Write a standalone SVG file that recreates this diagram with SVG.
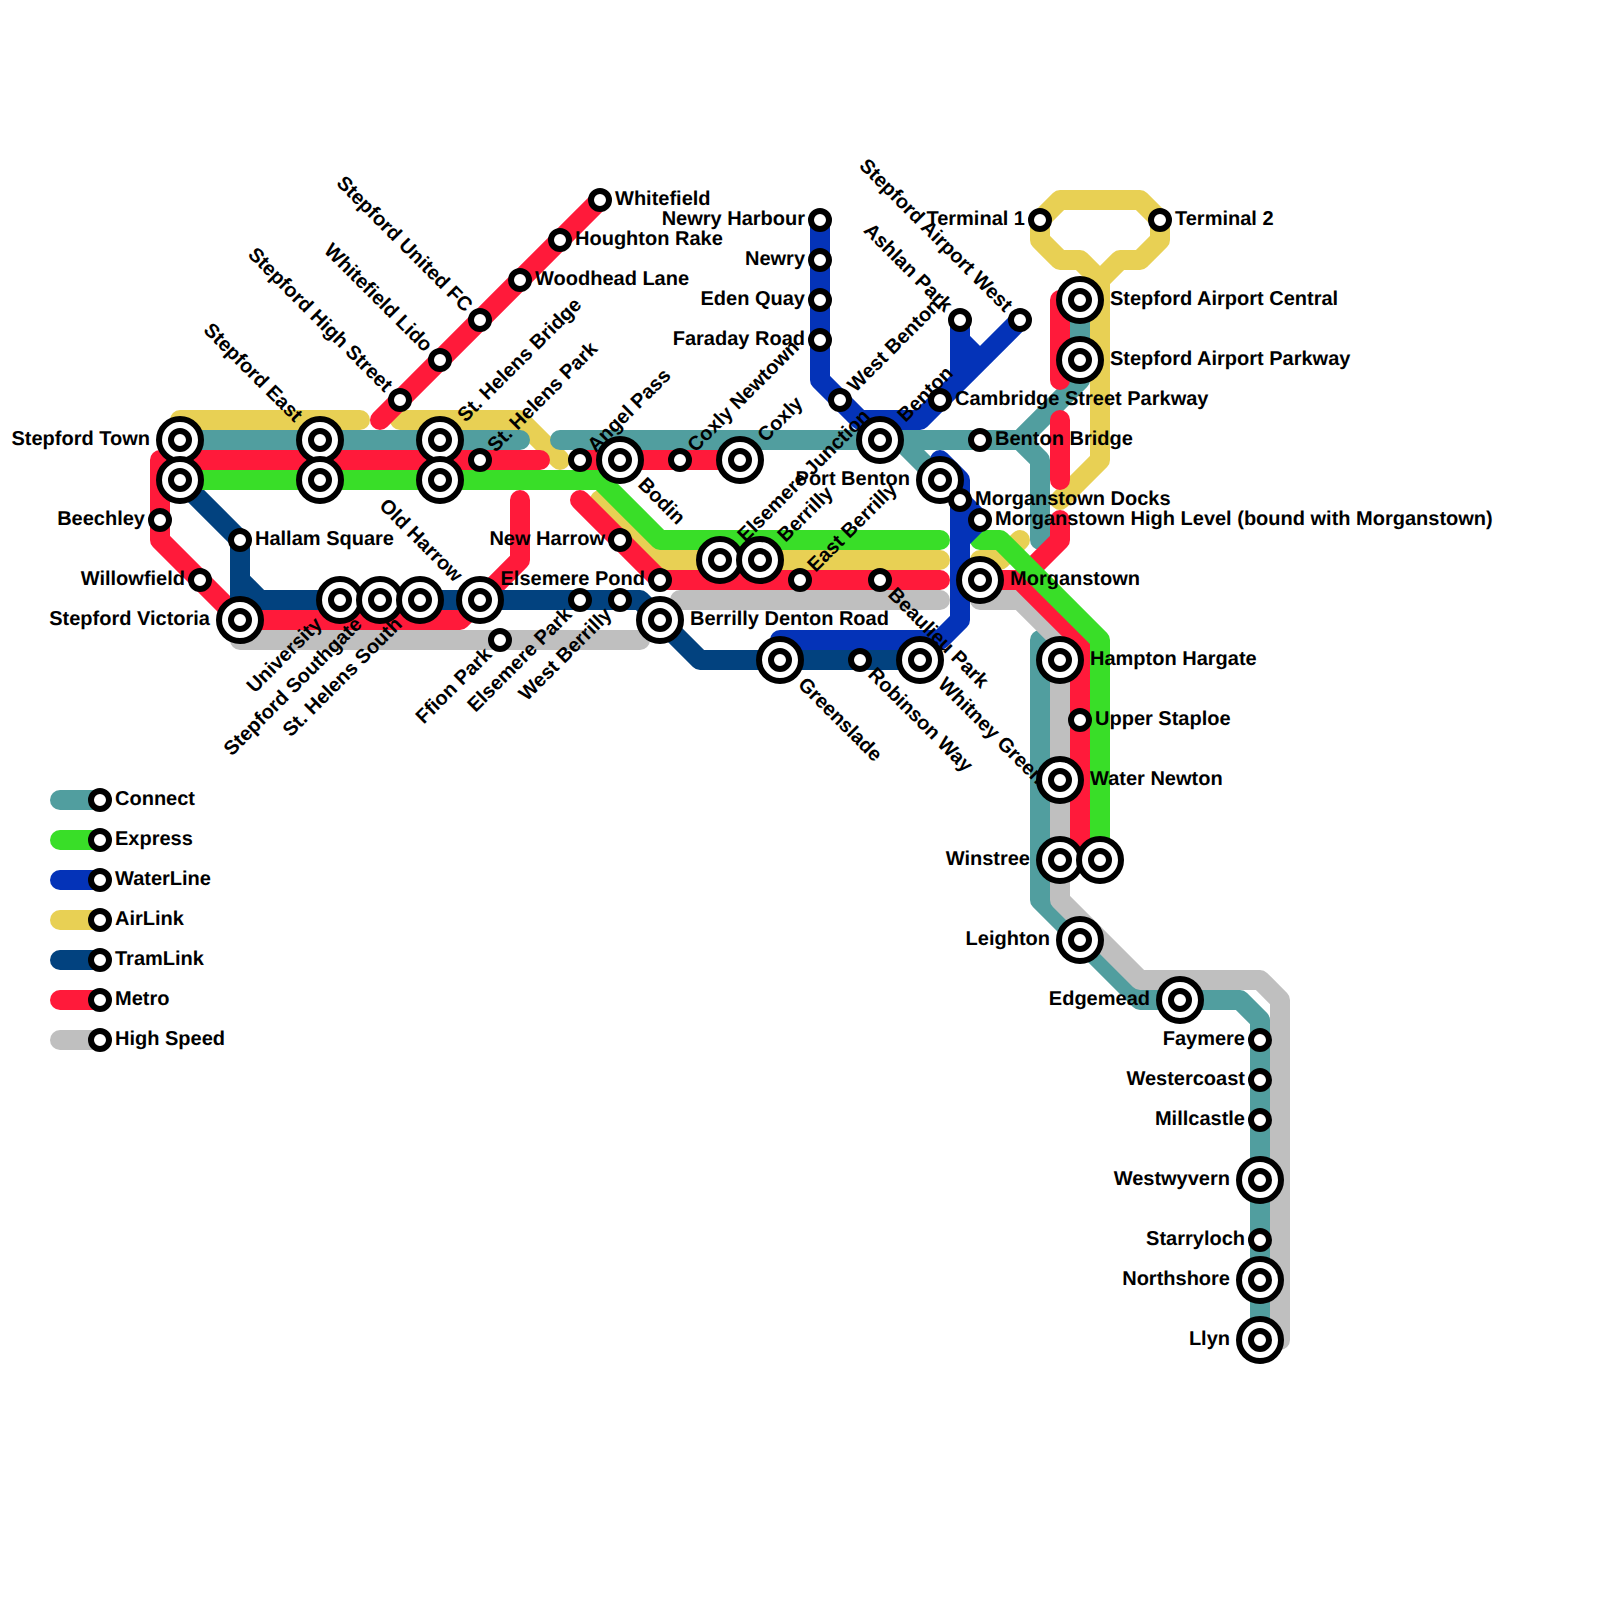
<svg xmlns="http://www.w3.org/2000/svg" width="1600" height="1600" viewBox="0 0 1600 1600">
<style>
.l{fill:none;stroke-width:20;stroke-linecap:round;stroke-linejoin:round}
.connect{stroke:#519e9f}.express{stroke:#39de28}.water{stroke:#0433b8}.air{stroke:#e8d054}.tram{stroke:#02427f}.metro{stroke:#ff1a3a}.high{stroke:#bfbfbf}
.o{fill:#fff;stroke:#000;stroke-width:6}
text{font-family:"Liberation Sans",Arial,sans-serif;font-weight:700;font-size:20px;fill:#000;text-rendering:geometricPrecision}
.e{text-anchor:end}
</style>
<defs>
<g id="s"><circle class="o" r="9"/></g>
<g id="b"><circle class="o" r="21"/><circle class="o" r="9"/></g>
</defs>
<rect width="1600" height="1600" fill="#fff"/>
<g id="connectors">
<path class="l air" d="M180 420H360M400 420H520L560 460M600 500L660 560H940M980 560H1000L1020 540M1060 500L1100 460V280L1080 260H1060L1040 240V220L1060 200H1140L1160 220V240L1140 260H1120L1100 280"/>
<path class="l connect" d="M180 440H520M560 440H1020L1040 460V540M900 440L940 480M1020 440L1080 380V300M1040 640V900L1140 1000H1240L1260 1020V1340"/>
<path class="l high" d="M240 640H640M680 600H940M980 600H1020L1060 640V900L1140 980H1260L1280 1000V1340"/>
<path class="l metro" d="M180 460H160V540L240 620H460L520 560V500M180 460H540M580 460H740M580 500L660 580H940M380 420L600 200M980 580H1020L1080 640V860M1060 520V540L1020 580M1060 420V480M1080 300H1060V380"/>
<path class="l tram" d="M180 480L240 540V620M240 580L260 600H640L700 660H920"/>
<path class="l express" d="M180 480H600L660 540H940M980 540H1000L1100 640V860"/>
<path class="l water" d="M820 220V380L860 420H920L1020 320M960 320V380M960 340L980 360M780 640H940L960 620V480L940 460M960 500L980 520L960 540"/>
<path class="l connect" d="M60 800H100"/><path class="l express" d="M60 840H100"/><path class="l water" d="M60 880H100"/><path class="l air" d="M60 920H100"/><path class="l tram" d="M60 960H100"/><path class="l metro" d="M60 1000H100"/><path class="l high" d="M60 1040H100"/>
</g>
<g id="legend">
<g id="leg1"><use href="#s" x="100" y="800"/><text x="115" y="805">Connect</text></g>
<g id="leg2"><use href="#s" x="100" y="840"/><text x="115" y="845">Express</text></g>
<g id="leg3"><use href="#s" x="100" y="880"/><text x="115" y="885">WaterLine</text></g>
<g id="leg4"><use href="#s" x="100" y="920"/><text x="115" y="925">AirLink</text></g>
<g id="leg5"><use href="#s" x="100" y="960"/><text x="115" y="965">TramLink</text></g>
<g id="leg6"><use href="#s" x="100" y="1000"/><text x="115" y="1005">Metro</text></g>
<g id="leg7"><use href="#s" x="100" y="1040"/><text x="115" y="1045">High Speed</text></g>
</g>
<g id="nodes">
<g id="n-stepford-town"><use href="#b" x="180" y="440"/><text class="e" x="150" y="445">Stepford Town</text></g>
<g id="n-st2"><use href="#b" x="180" y="480"/></g>
<g id="n-beechley"><use href="#s" x="160" y="520"/><text class="e" x="145" y="525">Beechley</text></g>
<g id="n-willowfield"><use href="#s" x="200" y="580"/><text class="e" x="185" y="585">Willowfield</text></g>
<g id="n-stepford-victoria"><use href="#b" x="240" y="620"/><text class="e" x="210" y="625">Stepford Victoria</text></g>
<g id="n-hallam"><use href="#s" x="240" y="540"/><text x="255" y="545">Hallam Square</text></g>
<g id="n-stepford-east"><use href="#b" x="320" y="440"/><text class="e" transform="translate(320 440) rotate(45)" x="-30" y="6">Stepford East</text></g>
<g id="n-se2"><use href="#b" x="320" y="480"/></g>
<g id="n-university"><use href="#b" x="340" y="600"/><text class="e" transform="translate(340 600) rotate(-45)" x="-30" y="6">University</text></g>
<g id="n-southgate"><use href="#b" x="380" y="600"/><text class="e" transform="translate(380 600) rotate(-45)" x="-30" y="6">Stepford Southgate</text></g>
<g id="n-helens-south"><use href="#b" x="420" y="600"/><text class="e" transform="translate(420 600) rotate(-45)" x="-30" y="6">St. Helens South</text></g>
<g id="n-high-street"><use href="#s" x="400" y="400"/><text class="e" transform="translate(400 400) rotate(45)" x="-16" y="6">Stepford High Street</text></g>
<g id="n-lido"><use href="#s" x="440" y="360"/><text class="e" transform="translate(440 360) rotate(45)" x="-16" y="6">Whitefield Lido</text></g>
<g id="n-united"><use href="#s" x="480" y="320"/><text class="e" transform="translate(480 320) rotate(45)" x="-16" y="6">Stepford United FC</text></g>
<g id="n-woodhead"><use href="#s" x="520" y="280"/><text x="535" y="285">Woodhead Lane</text></g>
<g id="n-houghton"><use href="#s" x="560" y="240"/><text x="575" y="245">Houghton Rake</text></g>
<g id="n-whitefield"><use href="#s" x="600" y="200"/><text x="615" y="205">Whitefield</text></g>
<g id="n-helens-bridge"><use href="#b" x="440" y="440"/><text transform="translate(440 440) rotate(-45)" x="30" y="6">St. Helens Bridge</text></g>
<g id="n-hb2"><use href="#b" x="440" y="480"/></g>
<g id="n-helens-park"><use href="#s" x="480" y="460"/><text transform="translate(480 460) rotate(-45)" x="16" y="6">St. Helens Park</text></g>
<g id="n-old-harrow"><use href="#b" x="480" y="600"/><text class="e" transform="translate(480 600) rotate(45)" x="-30" y="6">Old Harrow</text></g>
<g id="n-ffion"><use href="#s" x="500" y="640"/><text class="e" transform="translate(500 640) rotate(-45)" x="-16" y="6">Ffion Park</text></g>
<g id="n-elsemere-park"><use href="#s" x="580" y="600"/><text class="e" transform="translate(580 600) rotate(-45)" x="-16" y="6">Elsemere Park</text></g>
<g id="n-west-berrilly"><use href="#s" x="620" y="600"/><text class="e" transform="translate(620 600) rotate(-45)" x="-16" y="6">West Berrilly</text></g>
<g id="n-angel"><use href="#s" x="580" y="460"/><text transform="translate(580 460) rotate(-45)" x="16" y="6">Angel Pass</text></g>
<g id="n-bodin"><use href="#b" x="620" y="460"/><text transform="translate(620 460) rotate(45)" x="30" y="6">Bodin</text></g>
<g id="n-new-harrow"><use href="#s" x="620" y="540"/><text class="e" x="605" y="545">New Harrow</text></g>
<g id="n-elsemere-pond"><use href="#s" x="660" y="580"/><text class="e" x="645" y="585">Elsemere Pond</text></g>
<g id="n-denton"><use href="#b" x="660" y="620"/><text x="690" y="625">Berrilly Denton Road</text></g>
<g id="n-coxly-newtown"><use href="#s" x="680" y="460"/><text transform="translate(680 460) rotate(-45)" x="16" y="6">Coxly Newtown</text></g>
<g id="n-coxly"><use href="#b" x="740" y="460"/><text transform="translate(740 460) rotate(-45)" x="30" y="6">Coxly</text></g>
<g id="n-elsemere-junction"><use href="#b" x="720" y="560"/><text transform="translate(720 560) rotate(-45)" x="30" y="6">Elsemere Junction</text></g>
<g id="n-berrilly"><use href="#b" x="760" y="560"/><text transform="translate(760 560) rotate(-45)" x="30" y="6">Berrilly</text></g>
<g id="n-east-berrilly"><use href="#s" x="800" y="580"/><text transform="translate(800 580) rotate(-45)" x="16" y="6">East Berrilly</text></g>
<g id="n-beaulieu"><use href="#s" x="880" y="580"/><text transform="translate(880 580) rotate(45)" x="16" y="6">Beaulieu Park</text></g>
<g id="n-greenslade"><use href="#b" x="780" y="660"/><text transform="translate(780 660) rotate(45)" x="30" y="6">Greenslade</text></g>
<g id="n-robinson"><use href="#s" x="860" y="660"/><text transform="translate(860 660) rotate(45)" x="16" y="6">Robinson Way</text></g>
<g id="n-whitney"><use href="#b" x="920" y="660"/><text transform="translate(920 660) rotate(45)" x="30" y="6">Whitney Green</text></g>
<g id="n-newry-harbour"><use href="#s" x="820" y="220"/><text class="e" x="805" y="225">Newry Harbour</text></g>
<g id="n-newry"><use href="#s" x="820" y="260"/><text class="e" x="805" y="265">Newry</text></g>
<g id="n-eden"><use href="#s" x="820" y="300"/><text class="e" x="805" y="305">Eden Quay</text></g>
<g id="n-faraday"><use href="#s" x="820" y="340"/><text class="e" x="805" y="345">Faraday Road</text></g>
<g id="n-west-benton"><use href="#s" x="840" y="400"/><text transform="translate(840 400) rotate(-45)" x="16" y="6">West Benton</text></g>
<g id="n-benton"><use href="#b" x="880" y="440"/><text transform="translate(880 440) rotate(-45)" x="30" y="6">Benton</text></g>
<g id="n-cambridge"><use href="#s" x="940" y="400"/><text x="955" y="405">Cambridge Street Parkway</text></g>
<g id="n-ashlan"><use href="#s" x="960" y="320"/><text class="e" transform="translate(960 320) rotate(45)" x="-16" y="6">Ashlan Park</text></g>
<g id="n-airport-west"><use href="#s" x="1020" y="320"/><text class="e" transform="translate(1020 320) rotate(45)" x="-16" y="6">Stepford Airport West</text></g>
<g id="n-benton-bridge"><use href="#s" x="980" y="440"/><text x="995" y="445">Benton Bridge</text></g>
<g id="n-port-benton"><use href="#b" x="940" y="480"/><text class="e" x="910" y="485">Port Benton</text></g>
<g id="n-docks"><use href="#s" x="960" y="500"/><text x="975" y="505">Morganstown Docks</text></g>
<g id="n-high-level"><use href="#s" x="980" y="520"/><text x="995" y="525">Morganstown High Level (bound with Morganstown)</text></g>
<g id="n-morganstown"><use href="#b" x="980" y="580"/><text x="1010" y="585">Morganstown</text></g>
<g id="n-terminal1"><use href="#s" x="1040" y="220"/><text class="e" x="1025" y="225">Terminal 1</text></g>
<g id="n-terminal2"><use href="#s" x="1160" y="220"/><text x="1175" y="225">Terminal 2</text></g>
<g id="n-airport-central"><use href="#b" x="1080" y="300"/><text x="1110" y="305">Stepford Airport Central</text></g>
<g id="n-airport-parkway"><use href="#b" x="1080" y="360"/><text x="1110" y="365">Stepford Airport Parkway</text></g>
<g id="n-hampton"><use href="#b" x="1060" y="660"/><text x="1090" y="665">Hampton Hargate</text></g>
<g id="n-upper"><use href="#s" x="1080" y="720"/><text x="1095" y="725">Upper Staploe</text></g>
<g id="n-water-newton"><use href="#b" x="1060" y="780"/><text x="1090" y="785">Water Newton</text></g>
<g id="n-winstree"><use href="#b" x="1060" y="860"/><text class="e" x="1030" y="865">Winstree</text></g>
<g id="n-w2"><use href="#b" x="1100" y="860"/></g>
<g id="n-leighton"><use href="#b" x="1080" y="940"/><text class="e" x="1050" y="945">Leighton</text></g>
<g id="n-edgemead"><use href="#b" x="1180" y="1000"/><text class="e" x="1150" y="1005">Edgemead</text></g>
<g id="n-faymere"><use href="#s" x="1260" y="1040"/><text class="e" x="1245" y="1045">Faymere</text></g>
<g id="n-westercoast"><use href="#s" x="1260" y="1080"/><text class="e" x="1245" y="1085">Westercoast</text></g>
<g id="n-millcastle"><use href="#s" x="1260" y="1120"/><text class="e" x="1245" y="1125">Millcastle</text></g>
<g id="n-westwyvern"><use href="#b" x="1260" y="1180"/><text class="e" x="1230" y="1185">Westwyvern</text></g>
<g id="n-starryloch"><use href="#s" x="1260" y="1240"/><text class="e" x="1245" y="1245">Starryloch</text></g>
<g id="n-northshore"><use href="#b" x="1260" y="1280"/><text class="e" x="1230" y="1285">Northshore</text></g>
<g id="n-llyn"><use href="#b" x="1260" y="1340"/><text class="e" x="1230" y="1345">Llyn</text></g>
</g>
</svg>
